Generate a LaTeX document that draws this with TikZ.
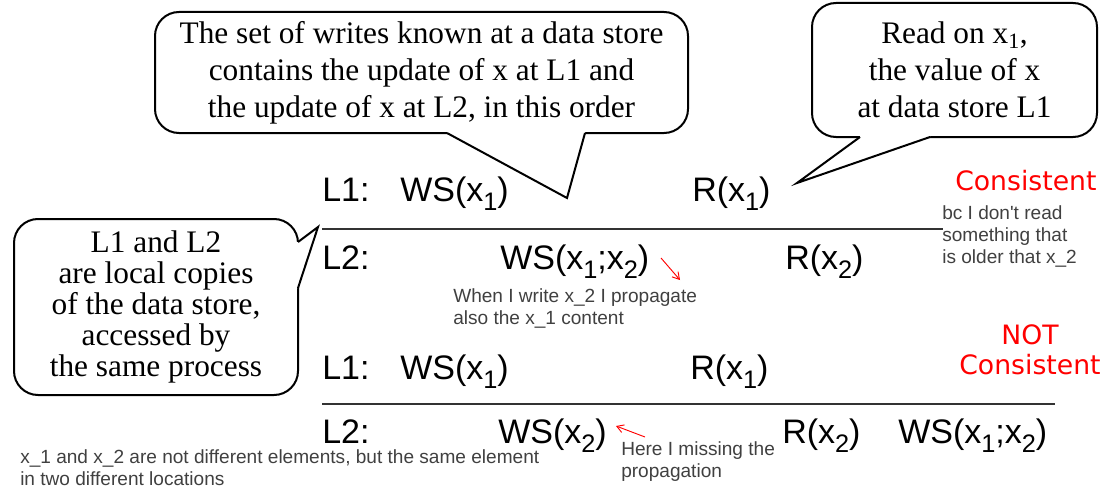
\documentclass[tikz,border=0pt]{standalone}
\usepackage{fontspec}
\setmainfont{Liberation Serif}
\newfontfamily\arialf{Liberation Sans}
\newfontfamily\verdf{DejaVu Sans}
\usetikzlibrary{arrows.meta}
\definecolor{notegray}{HTML}{404040}
\definecolor{linegray}{HTML}{333333}
\newcommand\lsub[1]{\raisebox{-0.28em}{\fontsize{19}{19}\selectfont #1}}
\begin{document}
\begin{tikzpicture}[x=0.75pt,y=-0.75pt,
  callout/.style={draw=black,line width=1.5pt,rounded corners=18pt,fill=white,inner sep=0pt,align=center},
  ctext/.style={font=\fontsize{23.5}{27.75}\selectfont},
  lbl/.style={font=\arialf\fontsize{25.5}{25.5}\selectfont,anchor=base west,inner sep=0pt},
  note/.style={font=\arialf\fontsize{14.3}{16.5}\selectfont,text=notegray,anchor=north west,inner sep=0pt,align=left},
  verdict/.style={font=\verdf\fontsize{20}{23}\selectfont,text=red,inner sep=0pt,align=center},
  tl/.style={line width=1.2pt,draw=linegray},
  tail/.style={draw=black,line width=1.5pt,line join=miter},
  redarrow/.style={draw=red,line width=0.7pt,-{Straight Barb[length=5pt,width=6pt]}}
]
\useasboundingbox (0,0) rectangle (1114,492);

% callout 1
\node[callout,ctext,minimum width=399.75pt,minimum height=90.75pt] (c1) at (421.5,72.5)
  {The set of writes known at a data store\\contains the update of x at L1 and\\the update of x at L2, in this order};
\coordinate (c1b1) at (447,133);
\coordinate (c1tip) at (567,198);
\coordinate (c1b2) at (585,133);
\fill[white] (c1b1) -- (c1tip) -- (c1b2) -- (585,128) -- (447,128) -- cycle;
\draw[tail] (c1b1) -- (c1tip) -- (c1b2);

% callout 2
\node[callout,ctext,minimum width=213.75pt,minimum height=100.5pt] (c2) at (954.5,70)
  {Read on x\textsubscript{1},\\the value of x\\at data store L1};
\coordinate (c2b1) at (860,137);
\coordinate (c2tip) at (797,183);
\coordinate (c2b2) at (930,137);
\fill[white] (c2b1) -- (c2tip) -- (c2b2) -- (930,132) -- (860,132) -- cycle;
\draw[tail] (c2b1) -- (c2tip) -- (c2b2);

% callout 3
\node[callout,font=\fontsize{23.5}{23.25}\selectfont,minimum width=213pt,minimum height=132pt] (c3) at (156,307)
  {L1 and L2\\are local copies\\of the data store,\\accessed by\\the same process};
\coordinate (c3b1) at (298,242);
\coordinate (c3tip) at (318,227);
\coordinate (c3b2) at (298,288);
\fill[white] (c3b1) -- (c3tip) -- (c3b2) -- (293,288) -- (293,242) -- cycle;
\draw[tail] (c3b1) -- (c3tip) -- (c3b2);

% first scenario
\node[lbl] (l1a) at (322,201) {L1:};
\node[lbl] (ws1a) at (400,201) {WS(x\lsub{1})};
\node[lbl] (r1a) at (692,201) {R(x\lsub{1})};
\coordinate (lineAs) at (322,229);
\coordinate (lineAe) at (943,229);
\draw[tl] (lineAs) -- (lineAe);
\node[lbl] (l2a) at (322,269) {L2:};
\node[lbl] (ws12a) at (500,269) {WS(x\lsub{1};x\lsub{2})};
\node[lbl] (r2a) at (785,269) {R(x\lsub{2})};
\coordinate (a1s) at (661,258);
\coordinate (a1e) at (680,280);
\draw[redarrow] (a1s) -- (a1e);
\node[note] (n1) at (453,288) {When I write x\_2 I propagate\\also the x\_1 content};
\node[verdict,anchor=base west] (v1) at (955,190) {Consistent};
\node[note] (n2) at (942,205) {bc I don\textquotesingle t read\\something that\\is older that x\_2};

% second scenario
\node[lbl] (l1b) at (322,379) {L1:};
\node[lbl] (ws1b) at (400,379) {WS(x\lsub{1})};
\node[lbl] (r1b) at (690,379) {R(x\lsub{1})};
\coordinate (lineBs) at (322,404);
\coordinate (lineBe) at (1055,404);
\draw[tl] (lineBs) -- (lineBe);
\node[lbl] (l2b) at (322,443) {L2:};
\node[lbl] (ws2b) at (498,443) {WS(x\lsub{2})};
\node[lbl] (r2b) at (782,443) {R(x\lsub{2})};
\node[lbl] (ws12b) at (898,443) {WS(x\lsub{1};x\lsub{2})};
\coordinate (a2s) at (645,437);
\coordinate (a2e) at (616,426);
\draw[redarrow] (a2s) -- (a2e);
\node[note] (n3) at (621,441) {Here I missing the\\propagation};
\node[note] (n4) at (20,449) {x\_1 and x\_2 are not different elements, but the same element\\in two different locations};
\node[verdict,anchor=north] (v2) at (1030,324) {NOT\\Consistent};
\end{tikzpicture}
\end{document}
